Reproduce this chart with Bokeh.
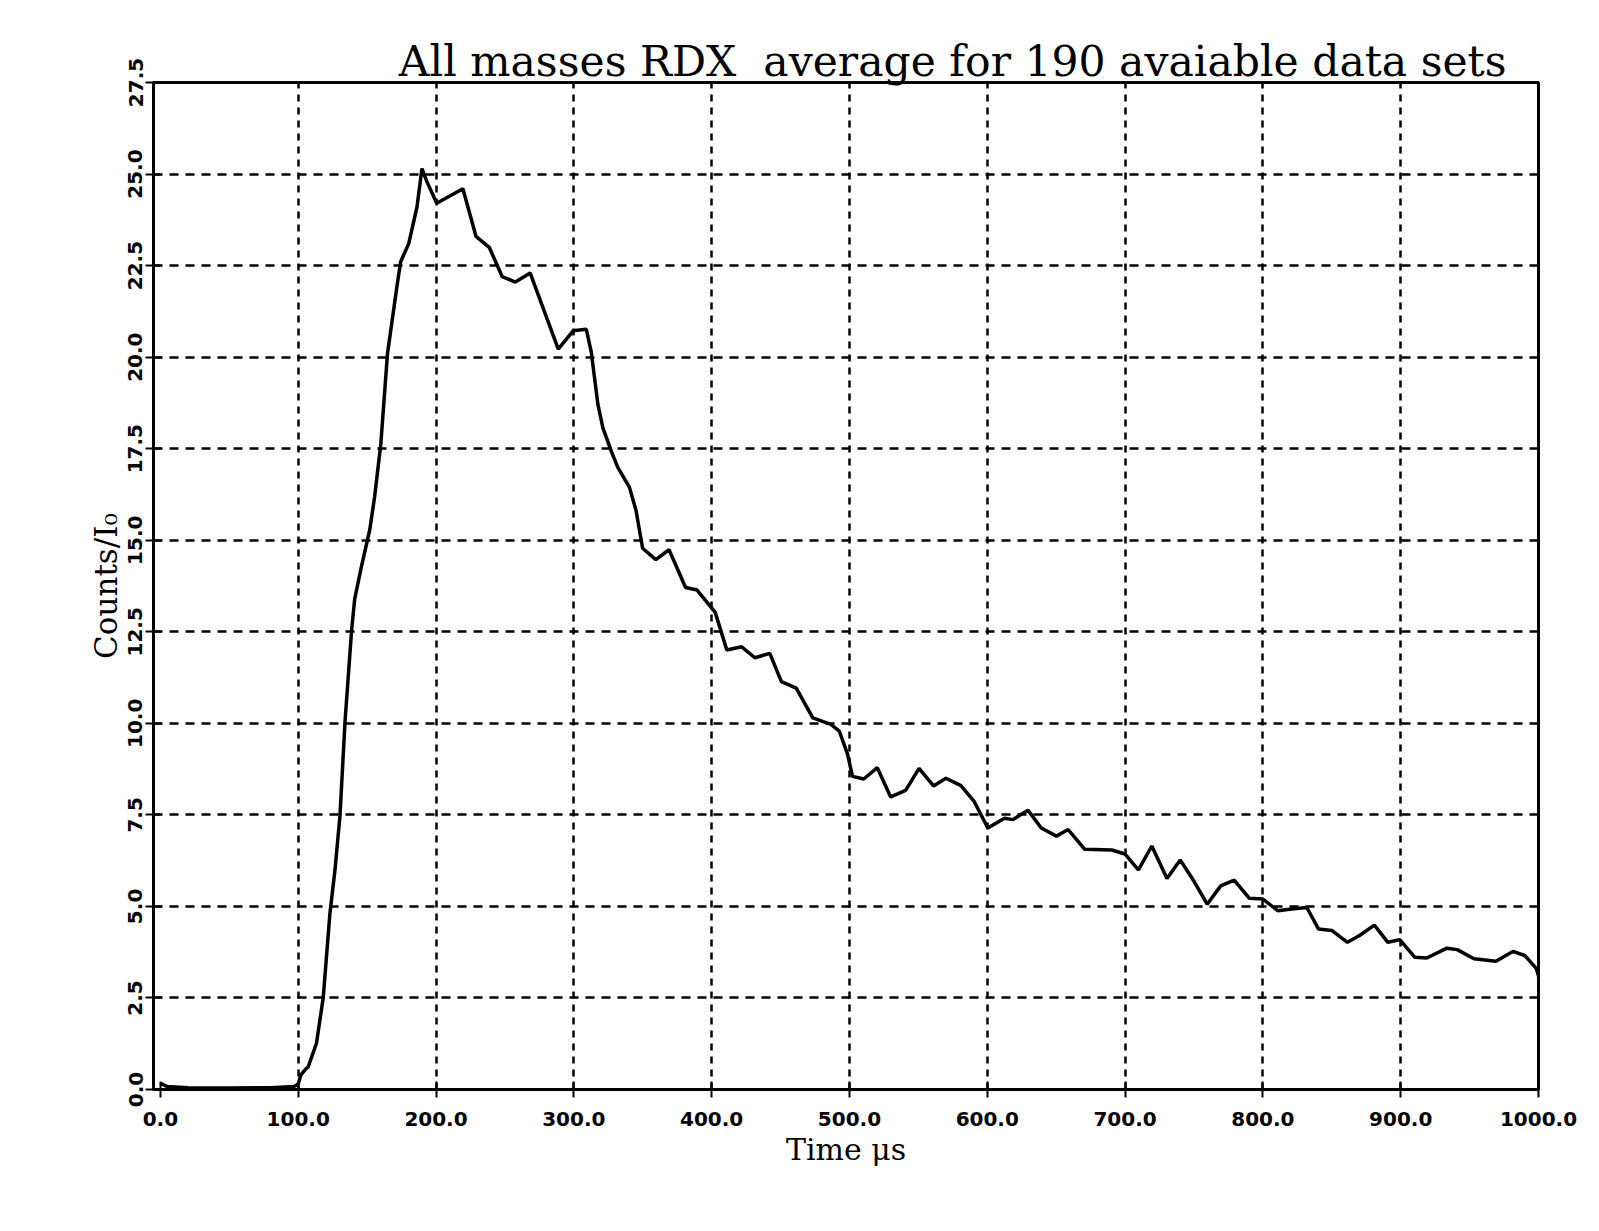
from bokeh.plotting import figure
from bokeh.models import FixedTicker, PrintfTickFormatter, Range1d, Title
from bokeh.embed import file_html
from bokeh.resources import INLINE

# ---- data ----
time_us = [0, 5, 20, 50, 80, 97, 100, 102, 104.8, 107.3, 113.3, 118.2, 123, 126.7, 130.3,
           134, 138.8, 141, 146, 152, 155.5, 160, 164.8, 171.9, 174.3, 180.2, 186.2, 189.8,
           193.3, 200.5, 219.5, 229, 238.6, 248, 257.6, 268.3, 288.7, 299.5, 309.1, 312.7,
           317.5, 321.1, 327.1, 331.9, 340.3, 345.1, 349.9, 359.5, 369.1, 381.1, 389.4,
           402.6, 411, 421.8, 431.4, 442.2, 450.6, 461.4, 473.4, 486.6, 492.6, 498.6, 502.2,
           510.4, 520.2, 529.9, 540.8, 550.5, 561, 570, 580.9, 590.6, 600.4, 612.5, 618.6,
           629.5, 639.2, 650.2, 658.7, 670.8, 690.3, 700, 709.7, 719.4, 730.4, 740, 749.8,
           759.6, 769.4, 779.2, 790.2, 800, 811, 820.8, 831.9, 840.4, 850.2, 861.3, 869.9,
           880.9, 890.7, 899.3, 910.3, 918.9, 933.6, 941, 953.2, 969.1, 981.4, 990, 998.5, 1000]
counts = [0.17, 0.08, 0.05, 0.04, 0.05, 0.08, 0.15, 0.4, 0.53, 0.62, 1.27, 2.52, 4.8, 6.0, 7.47,
          10.06, 12.56, 13.4, 14.3, 15.3, 16.2, 17.65, 20.1, 22.0, 22.6, 23.1, 24.1, 25.15,
          24.8, 24.2, 24.6, 23.3, 23.0, 22.2, 22.05, 22.3, 20.22, 20.72, 20.76, 20.13,
          18.7, 18.07, 17.44, 16.99, 16.45, 15.82, 14.78, 14.47, 14.74, 13.71, 13.64,
          13.03, 12.0, 12.09, 11.79, 11.91, 11.14, 10.96, 10.15, 9.97, 9.79, 9.16, 8.55,
          8.48, 8.79, 7.99, 8.17, 8.77, 8.29, 8.5, 8.3, 7.86, 7.14, 7.41, 7.37,
          7.63, 7.14, 6.92, 7.1, 6.56, 6.54, 6.43, 6.0, 6.65, 5.76, 6.27, 5.7,
          5.06, 5.56, 5.72, 5.22, 5.2, 4.88, 4.93, 4.97, 4.38, 4.34, 4.02, 4.2,
          4.49, 4.02, 4.09, 3.61, 3.59, 3.86, 3.82, 3.57, 3.5, 3.77, 3.66, 3.3, 3.1]

x_ticks = [0, 100, 200, 300, 400, 500, 600, 700, 800, 900, 1000]
x_grid_ticks = [100, 200, 300, 400, 500, 600, 700, 800, 900]
y_ticks = [0.0, 2.5, 5.0, 7.5, 10.0, 12.5, 15.0, 17.5, 20.0, 22.5, 25.0, 27.5]

title_text = "All masses RDX\u00a0\u00a0average for 190 avaiable data sets"
x_label = "Time \u03bcs"
y_label = "Counts/I\u2080"

p = figure(width=1588, height=1218, output_backend="svg", toolbar_location=None,
           x_range=Range1d(-5, 1000), y_range=Range1d(0, 27.5),
           min_border_left=153, min_border_right=50, min_border_top=82, min_border_bottom=129)

p.title = Title(text=title_text, align="right", text_font="DejaVu Serif",
                text_font_size="42.5px", text_font_style="normal", text_color="black",
                standoff=-6, offset=32)

p.line(time_us, counts, line_color="black", line_width=3.5)

p.xaxis.ticker = FixedTicker(ticks=x_ticks)
p.yaxis.ticker = FixedTicker(ticks=y_ticks)
p.xaxis.formatter = PrintfTickFormatter(format="%.1f")
p.yaxis.formatter = PrintfTickFormatter(format="%.1f")

for ax in (p.xaxis, p.yaxis):
    ax.axis_line_width = 3
    ax.axis_line_color = "black"
    ax.major_tick_line_width = 2
    ax.major_tick_line_color = "black"
    ax.major_tick_in = 8
    ax.major_tick_out = 8
    ax.minor_tick_line_color = None
    ax.major_label_text_font = "DejaVu Sans"
    ax.major_label_text_font_style = "bold"
    ax.major_label_text_color = "black"
    ax.axis_label_text_font = "DejaVu Serif"
    ax.axis_label_text_font_style = "normal"
    ax.axis_label_text_color = "black"

p.xaxis.major_label_text_font_size = "20px"
p.xaxis.major_label_standoff = 14
p.xaxis.axis_label = x_label
p.xaxis.axis_label_text_font_size = "30px"
p.xaxis.axis_label_standoff = 3

p.yaxis.major_label_text_font_size = "20px"
p.yaxis.major_label_orientation = "vertical"
p.yaxis.major_label_standoff = 3
p.yaxis.axis_label = y_label
p.yaxis.axis_label_text_font_size = "31px"
p.yaxis.axis_label_standoff = 2

p.xgrid.ticker = FixedTicker(ticks=x_grid_ticks)
p.xgrid.grid_line_color = "black"
p.ygrid.grid_line_color = "black"
p.xgrid.grid_line_width = 2.5
p.ygrid.grid_line_width = 2.5
p.xgrid.grid_line_dash = "7 6"
p.ygrid.grid_line_dash = "9 7"

p.outline_line_color = "black"
p.outline_line_width = 3
p.background_fill_color = "white"
p.border_fill_color = "white"

open("out.html", "w").write(file_html(p, INLINE))
